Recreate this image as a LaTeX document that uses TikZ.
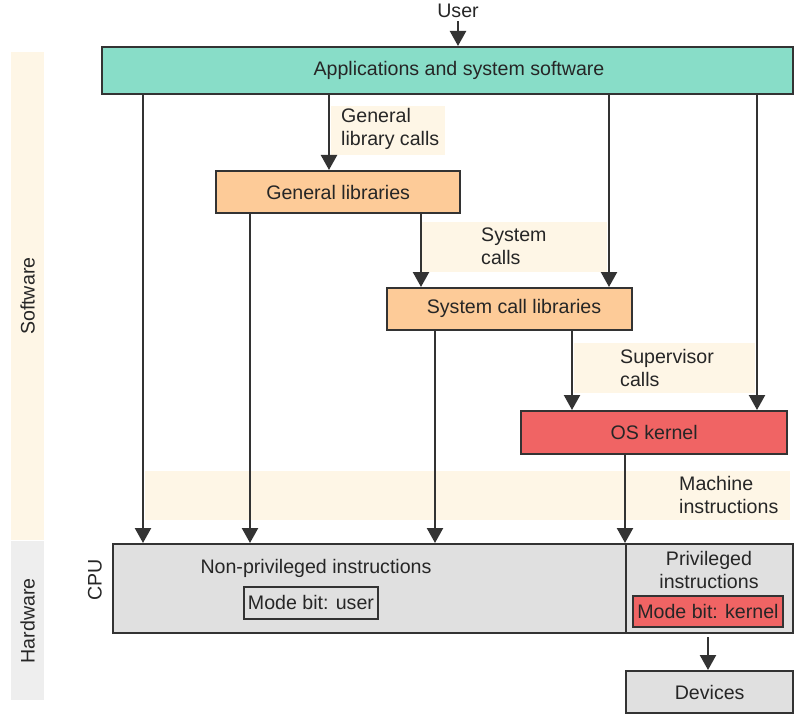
\documentclass[tikz,border=0pt]{standalone}
\usepackage{fontspec}
\setmainfont{Liberation Sans}
\usetikzlibrary{arrows.meta}
\definecolor{teal}{HTML}{88DDC8}
\definecolor{orng}{HTML}{FDCB98}
\definecolor{kred}{HTML}{F06464}
\definecolor{cgray}{HTML}{E0E0E0}
\definecolor{band}{HTML}{FEF6E6}
\definecolor{hband}{HTML}{EEEEEE}
\definecolor{ink}{HTML}{333333}
\begin{document}
\begin{tikzpicture}[x=1pt,y=-1pt,
  every node/.style={font=\fontsize{19.6}{23}\selectfont, text=black!85},
  box/.style={draw=ink, line width=2.3pt, inner sep=0pt},
  arr/.style={draw=ink, line width=2.3pt, -{Triangle[length=15pt,width=16pt]}},
  bgl/.style={fill=band, inner sep=0pt},
  lbl/.style={anchor=west, align=left, inner sep=0pt}]
\useasboundingbox (0,0) rectangle (800,722);
% side bands
\node[fill=band, inner sep=0pt, minimum width=33, minimum height=488, anchor=north west] (swband) at (11,52) {};
\node[fill=hband, inner sep=0pt, minimum width=33, minimum height=159, anchor=north west] (hwband) at (11,541) {};
\node[rotate=90] (swtext) at (swband.center) {Software};
\node[rotate=90] (hwtext) at (hwband.center) {Hardware};
% label backgrounds
\node[bgl, minimum width=114, minimum height=49, anchor=north west] (glcbg) at (331,106) {};
\node[bgl, minimum width=186, minimum height=50, anchor=north west] (scbg) at (421,222) {};
\node[bgl, minimum width=181, minimum height=50, anchor=north west] (svbg) at (574,343) {};
\node[bgl, minimum width=645, minimum height=49, anchor=north west] (mibg) at (145,471) {};
\node[lbl] (glc) at (341,129) {General\\library calls};
\node[lbl] (sc) at (481,246) {System\\calls};
\node[lbl] (sv) at (620,368) {Supervisor\\calls};
\node[lbl] (mi) at (679,495) {Machine\\instructions};
% boxes
\node[box, fill=teal, minimum width=691, minimum height=47, anchor=north west] (apps) at (101,46) {};
\node at (459,70) {Applications and system software};
\node[box, fill=orng, minimum width=244, minimum height=42, anchor=north west] (gl) at (215,170) {};
\node at (gl.center) {General libraries};
\node[box, fill=orng, minimum width=245, minimum height=42, anchor=north west] (scl) at (386,287) {};
\node at (514,308) {System call libraries};
\node[box, fill=kred, minimum width=266, minimum height=43, anchor=north west] (os) at (520,410) {};
\node at (os.center) {OS kernel};
\node[box, fill=cgray, minimum width=513, minimum height=89, anchor=north west] (cpuL) at (112,543) {};
\node[box, fill=cgray, minimum width=167, minimum height=89, anchor=north west] (cpuR) at (625,543) {};
\node (np) at (316,568) {Non-privileged instructions};
\node[box, line width=1.9pt, fill=cgray, minimum width=134, minimum height=32, anchor=north west] (mbu) at (243,586) {};
\node at (mbu.center) {Mode bit: user};
\node[align=center] (pi) at (709,570) {Privileged\\instructions};
\node[box, line width=1.9pt, fill=kred, minimum width=150, minimum height=31, anchor=north west] (mbk) at (632,595) {};
\node at (mbk.center) {Mode bit: kernel};
\node[rotate=90] (cpu) at (95,580) {CPU};
\node[box, fill=cgray, minimum width=167, minimum height=42, anchor=north west] (dev) at (625,670) {};
\node at (dev.center) {Devices};
\node[inner sep=0pt] (user) at (458,11) {User};
% arrows
\draw[arr] (user.south) ++(0,3) coordinate (u0) -- (u0 |- apps.north);
\draw[arr] (apps.south -| 143,0) -- (cpuL.north -| 143,0);
\draw[arr] (apps.south -| 329,0) -- (gl.north -| 329,0);
\draw[arr] (apps.south -| 609,0) -- (scl.north -| 609,0);
\draw[arr] (apps.south -| 757,0) -- (os.north -| 757,0);
\draw[arr] (gl.south -| 250,0) -- (cpuL.north -| 250,0);
\draw[arr] (gl.south -| 421,0) -- (scl.north -| 421,0);
\draw[arr] (scl.south -| 435,0) -- (cpuL.north -| 435,0);
\draw[arr] (scl.south -| 572,0) -- (os.north -| 572,0);
\draw[arr] (os.south -| 625,0) -- (cpuR.north west);
\draw[arr] (cpuR.south -| 708,0) ++(0,3) coordinate (d0) -- (d0 |- dev.north);
\end{tikzpicture}
\end{document}
